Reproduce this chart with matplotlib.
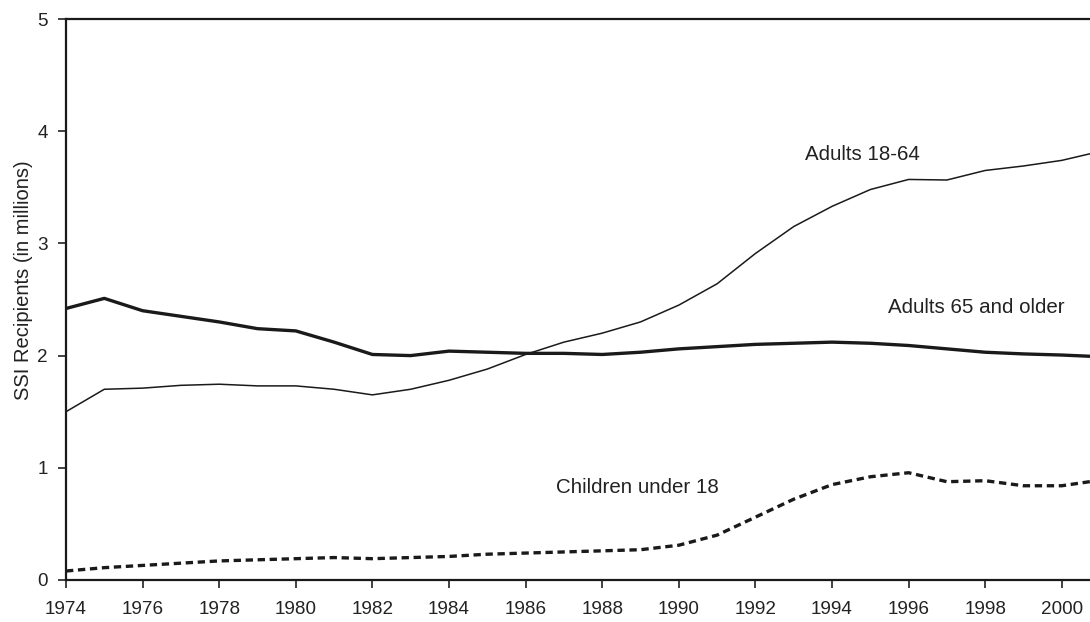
import matplotlib.pyplot as plt

# Datos (millones de beneficiarios SSI)
years = list(range(1974, 2002))
adults_18_64 = [1.50, 1.70, 1.71, 1.735, 1.745, 1.73, 1.73, 1.70, 1.65, 1.70,
                1.78, 1.88, 2.01, 2.12, 2.20, 2.30, 2.45, 2.64, 2.91, 3.15,
                3.33, 3.48, 3.57, 3.565, 3.65, 3.69, 3.74, 3.82]
adults_65 = [2.42, 2.51, 2.40, 2.35, 2.30, 2.24, 2.22, 2.12, 2.01, 2.00,
             2.04, 2.03, 2.02, 2.02, 2.01, 2.03, 2.06, 2.08, 2.10, 2.11,
             2.12, 2.11, 2.09, 2.06, 2.03, 2.015, 2.005, 1.99]
children = [0.08, 0.11, 0.13, 0.15, 0.17, 0.18, 0.19, 0.20, 0.19, 0.20,
            0.21, 0.23, 0.24, 0.25, 0.26, 0.27, 0.31, 0.40, 0.56, 0.72,
            0.85, 0.92, 0.956, 0.876, 0.885, 0.84, 0.84, 0.89]
x_ticks = list(range(1974, 2001, 2))
y_ticks = [0, 1, 2, 3, 4, 5]

plt.rcParams['font.family'] = ['Liberation Sans', 'DejaVu Sans']

fig = plt.figure(figsize=(10.9, 6.22), dpi=100)
ax = fig.add_axes([66 / 1090, 1 - 580 / 622, 1 - 66 / 1090, (580 - 19) / 622])

ax.plot(years, adults_18_64, color="#1a1a1a", linewidth=1.1)
ax.plot(years, adults_65, color="#1a1a1a", linewidth=2.4)
ax.plot(years, children, color="#1a1a1a", linewidth=2.4, dashes=(2.2, 1.4))

ax.text(1993.3, 3.79, "Adults 18-64", fontsize=14.8, va="center", color="#222222")
ax.text(1995.45, 2.43, "Adults 65 and older", fontsize=14.8, va="center", color="#222222")
ax.text(1986.8, 0.82, "Children under 18", fontsize=14.8, va="center", color="#222222")

ax.set_xlim(1974, 1974 + (1090 - 66) / 38.3)
ax.set_ylim(0, 5)
ax.set_xticks(x_ticks)
ax.set_yticks(y_ticks)
ax.tick_params(direction="out", length=6, width=1.2, labelsize=13.6,
               colors="#222222")
ax.tick_params(axis="x", pad=9)
ax.tick_params(axis="y", pad=7)
ax.set_ylabel("SSI Recipients (in millions)", fontsize=14.5, color="#222222")
ax.yaxis.set_label_coords(-0.032, 0.535)

for side in ["left", "bottom", "top"]:
    ax.spines[side].set_linewidth(1.6)
    ax.spines[side].set_color("#1a1a1a")
ax.spines["right"].set_visible(False)

fig.savefig("out.png", dpi=100)
